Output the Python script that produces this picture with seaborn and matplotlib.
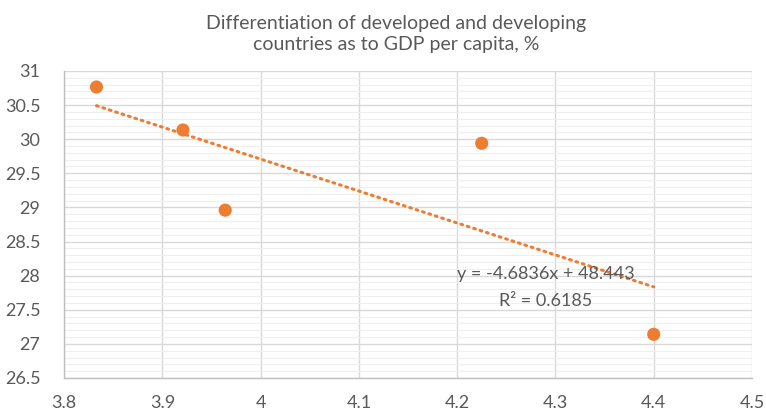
import numpy as np
import pandas as pd
import matplotlib
matplotlib.use("Agg")
import matplotlib.pyplot as plt
import seaborn as sns
from matplotlib.ticker import MultipleLocator

# Observations
gdp_log = [3.833, 3.921, 3.964, 4.225, 4.400]
diff_pct = [30.765, 30.135, 28.96, 29.94, 27.14]

# Linear trend as reported
slope = -4.6836
intercept = 48.443
r_squared = 0.6185

title = "Differentiation of developed and developing\ncountries as to GDP per capita, %"

df = pd.DataFrame({"x": gdp_log, "y": diff_pct})

sns.set_theme(style="white")
plt.rcParams["font.family"] = ["Lato", "DejaVu Sans"]

orange = "#ED7D31"
text_gray = "#595959"

fig = plt.figure(figsize=(7.66, 4.15), dpi=100)
ax = fig.add_axes([0.0836, 0.0892, 0.8981, 0.7398])

sns.scatterplot(data=df, x="x", y="y", ax=ax, color=orange, s=90,
                edgecolor="none", zorder=4)

xs = np.array([min(gdp_log), max(gdp_log)])
ax.plot(xs, slope * xs + intercept, color=orange, lw=2.2,
        linestyle=(0, (0.6, 1.6)), dash_capstyle="round", zorder=3)

ax.set_xlim(3.8, 4.5)
ax.set_ylim(26.5, 31)
ax.yaxis.set_minor_locator(MultipleLocator(0.1))

ax.set_xticks(np.round(np.arange(3.8, 4.51, 0.1), 1))
ax.set_xticklabels(["3.8", "3.9", "4", "4.1", "4.2", "4.3", "4.4", "4.5"])
yt = np.round(np.arange(26.5, 31.01, 0.5), 1)
ax.set_yticks(yt)
ax.set_yticklabels([("%g" % v) for v in yt])

ax.grid(which="major", axis="both", color="#D9D9D9", lw=1.0, zorder=0)
ax.grid(which="minor", axis="y", color="#EFEFEF", lw=0.8, zorder=0)
ax.set_axisbelow(True)

for side in ["top", "right"]:
    ax.spines[side].set_visible(False)
for side in ["left", "bottom"]:
    ax.spines[side].set_color("#BFBFBF")
    ax.spines[side].set_linewidth(1.0)

ax.tick_params(axis="both", which="major", width=1.0, color="#BFBFBF",
               labelsize=13, labelcolor=text_gray, direction="out")
ax.tick_params(axis="x", which="major", length=6, pad=6)
ax.tick_params(axis="y", which="major", length=5, pad=12)
ax.tick_params(axis="y", which="minor", length=0)
ax.set_xlabel("")
ax.set_ylabel("")

ax.text(4.290, 28.03, f"y = {slope}x + {intercept}", ha="center", va="center",
        fontsize=13, color=text_gray, zorder=5)
ax.text(4.290, 27.63, f"R² = {r_squared}", ha="center", va="center",
        fontsize=13, color=text_gray, zorder=5)

fig.text(0.517, 0.918, title, ha="center", va="center", fontsize=14,
         color=text_gray, linespacing=1.25)

fig.savefig("out.png", dpi=100)
